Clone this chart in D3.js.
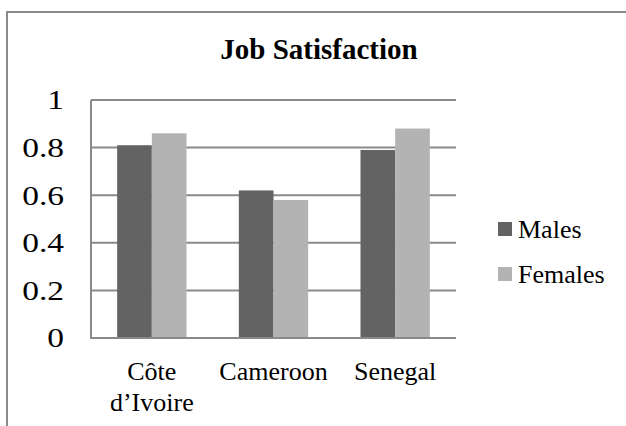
<!DOCTYPE html>
<html><head><meta charset="utf-8">
<script src="https://cdn.jsdelivr.net/npm/d3@7"></script>
<style>html,body{margin:0;padding:0;background:#fff;}svg{display:block;}</style>
</head><body>
<svg id="chart" width="626" height="426"></svg>
<script>
const categories = [["Côte", "d’Ivoire"], ["Cameroon"], ["Senegal"]];
const seriesNames = ["Males", "Females"];
const males = [0.81, 0.62, 0.79];
const females = [0.86, 0.58, 0.88];
const yTicks = [0, 0.2, 0.4, 0.6, 0.8, 1];
const colors = ["#636363", "#b3b3b3"];

const svg = d3.select("#chart");
const font = "'Liberation Serif','Times New Roman',serif";
const plotL = 91, plotR = 456, plotT = 100, plotB = 338;

svg.append("rect").attr("x", 7).attr("y", 12).attr("width", 640).attr("height", 440)
  .attr("fill", "none").attr("stroke", "#8a8a8a").attr("stroke-width", 2);

svg.append("text").attr("x", 319).attr("y", 59).attr("text-anchor", "middle")
  .attr("font-family", font).attr("font-weight", "bold").attr("font-size", 29)
  .text("Job Satisfaction");

const x0 = d3.scaleBand().domain(d3.range(categories.length)).range([plotL, plotR])
  .paddingInner(0.43).paddingOuter(0.215);
const x1 = d3.scaleBand().domain(seriesNames).range([0, x0.bandwidth()]);
const y = d3.scaleLinear().domain([0, 1]).range([plotB, plotT]);

// gridlines
svg.append("g").selectAll("line").data(yTicks.filter(d => d > 0)).join("line")
  .attr("x1", plotL).attr("x2", plotR).attr("y1", d => y(d)).attr("y2", d => y(d))
  .attr("stroke", "#8a8a8a").attr("stroke-width", 2);

// y labels (horizontally stretched as in the reference)
svg.append("g").selectAll("text").data(yTicks).join("text")
  .attr("transform", d => `translate(64, ${y(d)}) scale(1.24, 1)`)
  .attr("dy", "0.35em").attr("text-anchor", "end")
  .attr("font-family", font).attr("font-size", 27)
  .text(d => d3.format("~g")(d));

const data = [males, females];
const g = svg.append("g");
data.forEach((vals, si) => {
  g.selectAll(".s" + si).data(vals).join("rect").attr("class", "s" + si)
    .attr("x", (d, i) => x0(i) + x1(seriesNames[si]))
    .attr("width", x1.bandwidth())
    .attr("y", d => y(d)).attr("height", d => y(0) - y(d))
    .attr("fill", colors[si]);
});

// axes lines
svg.append("line").attr("x1", plotL).attr("x2", plotR).attr("y1", plotB).attr("y2", plotB)
  .attr("stroke", "#8a8a8a").attr("stroke-width", 2);
svg.append("line").attr("x1", plotL).attr("x2", plotL).attr("y1", plotT).attr("y2", plotB + 1)
  .attr("stroke", "#8a8a8a").attr("stroke-width", 2);

// category labels
const cl = svg.append("g").selectAll("text").data(categories).join("text")
  .attr("text-anchor", "middle").attr("font-family", font).attr("font-size", 26)
  .attr("x", (d, i) => x0(i) + x0.bandwidth() / 2).attr("y", 380);
cl.selectAll("tspan").data(d => d).join("tspan")
  .attr("x", function() { return d3.select(this.parentNode).attr("x"); })
  .attr("dy", (d, i) => i === 0 ? 0 : 31).text(d => d);

// legend
const lg = svg.append("g").selectAll("g").data(seriesNames).join("g")
  .attr("transform", (d, i) => `translate(498, ${229 + i * 45})`);
lg.append("rect").attr("x", 0).attr("y", -7).attr("width", 14).attr("height", 14)
  .attr("fill", (d, i) => colors[i]);
lg.append("text").attr("x", 20).attr("dy", "0.33em").attr("font-family", font)
  .attr("font-size", 26).text(d => d);
</script>
</body></html>
